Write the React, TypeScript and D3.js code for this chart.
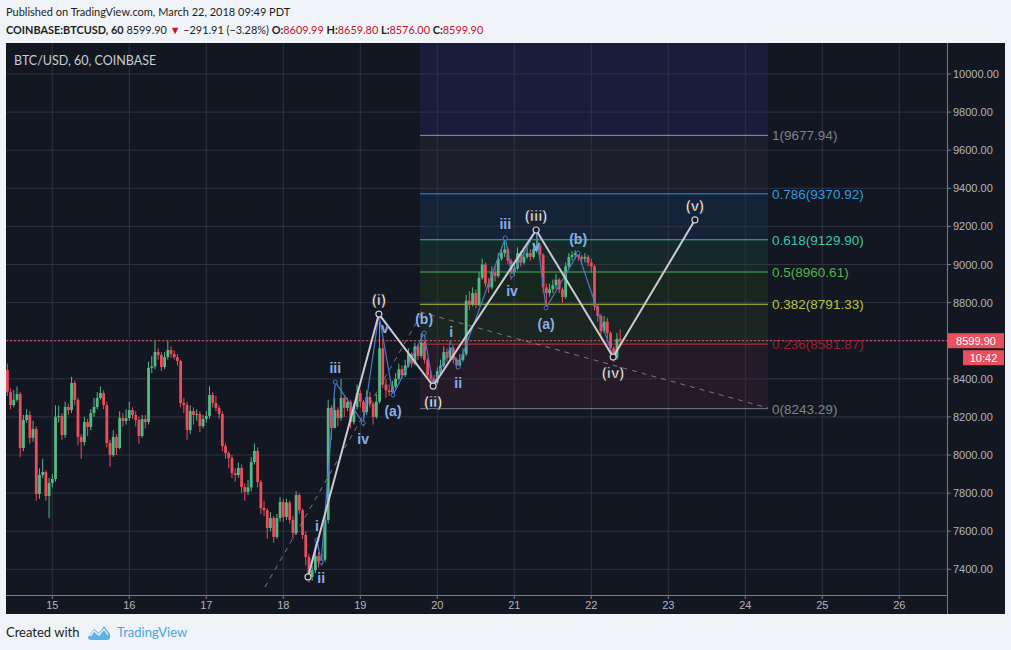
import React from 'react';
import * as d3 from 'd3';

// ---------- DATA ----------
const firstOpen = 8446;
const closes = [
  8330, 8262, 8290, 8320, 8037, 8184, 8210, 8090, 8136, 7795,
  7895, 7911, 7785, 7853, 7874, 8200, 8205, 8105, 8252, 8236,
  8378, 8289, 8095, 8068, 8173, 8147, 8220, 8252, 8299, 8325,
  8262, 8063, 8000, 8095, 8037, 8194, 8178, 8194, 8236, 8210,
  8184, 8100, 8189, 8173, 8457, 8465, 8541, 8525, 8462, 8514,
  8551, 8530, 8514, 8493, 8273, 8262, 8131, 8231, 8210, 8215,
  8152, 8189, 8205, 8315, 8273, 8247, 8215, 8047, 8010, 7984,
  7905, 7895, 7932, 7832, 7806, 7830, 7963, 8021, 7858, 7722,
  7710, 7617, 7669, 7570, 7669, 7753, 7675, 7750, 7660, 7590,
  7790, 7710, 7580, 7464, 7360, 7395, 7470, 7440, 7450, 7659,
  8247, 8142, 8236, 8194, 8299, 8247, 8278, 8173, 8252, 8325,
  8280, 8225, 8305, 8270, 8200, 8280, 8560, 8370, 8340, 8330,
  8360, 8400, 8450, 8420, 8470, 8530, 8480, 8570, 8520, 8590,
  8500, 8420, 8400, 8380, 8440, 8470, 8540, 8510, 8560, 8500,
  8470, 8500, 8530, 8810, 8790, 8850, 8790, 8930, 9000, 8900,
  8880, 8960, 8940, 9030, 9060, 9080, 9020, 8960, 8980, 9060,
  9010, 9040, 9060, 9040, 9080, 9100, 9050, 8880, 8850, 8870,
  8890, 8920, 8870, 8830, 8990, 9040, 9050, 9060, 9040, 9030,
  9040, 9010, 8990, 8780, 8730, 8650, 8700, 8640, 8560, 8510,
  8609.99, 8599.9,
];
const highs = [
  8480, 8350, 8340, 8360, 8330, 8210, 8240, 8230, 8180, 8150,
  7930, 7980, 7920, 7880, 7900, 8260, 8260, 8220, 8280, 8270,
  8410, 8390, 8300, 8110, 8200, 8190, 8240, 8300, 8330, 8360,
  8340, 8280, 8080, 8130, 8110, 8230, 8220, 8240, 8280, 8250,
  8230, 8200, 8210, 8210, 8490, 8520, 8600, 8560, 8540, 8540,
  8600, 8570, 8550, 8530, 8500, 8300, 8280, 8260, 8250, 8240,
  8230, 8210, 8230, 8360, 8330, 8310, 8260, 8230, 8060, 8020,
  8000, 7930, 7960, 7950, 7850, 7870, 7990, 8060, 8040, 7870,
  7760, 7720, 7700, 7680, 7690, 7780, 7770, 7770, 7760, 7680,
  7810, 7800, 7720, 7600, 7480, 7420, 7500, 7490, 7480, 7690,
  8290, 8260, 8300, 8250, 8400, 8310, 8300, 8290, 8270, 8370,
  8340, 8290, 8340, 8330, 8280, 8320, 8700, 8610, 8400, 8370,
  8390, 8430, 8480, 8470, 8500, 8560, 8540, 8590, 8580, 8640,
  8600, 8510, 8440, 8420, 8460, 8500, 8570, 8560, 8600, 8570,
  8510, 8530, 8560, 8840, 8860, 8880, 8870, 8960, 9030, 9010,
  8930, 8990, 8990, 9060, 9090, 9140, 9090, 9030, 9010, 9090,
  9070, 9070, 9090, 9080, 9110, 9180, 9110, 9060, 8900, 8900,
  8920, 8950, 8930, 8880, 9010, 9060, 9070, 9075, 9070, 9050,
  9060, 9050, 9030, 9000, 8790, 8740, 8730, 8720, 8650, 8570,
  8640, 8659.8,
];
const lows = [
  8310, 8240, 8250, 8280, 7990, 8020, 8170, 8060, 8070, 7760,
  7770, 7880, 7760, 7669, 7830, 7860, 8170, 8080, 8090, 8210,
  8220, 8260, 8050, 7980, 8050, 8100, 8130, 8200, 8240, 8290,
  8240, 8040, 7940, 7990, 8000, 8030, 8150, 8160, 8180, 8190,
  8150, 8060, 8090, 8140, 8160, 8430, 8450, 8500, 8440, 8450,
  8500, 8510, 8500, 8470, 8250, 8220, 8080, 8110, 8160, 8180,
  8120, 8140, 8170, 8190, 8250, 8230, 8190, 8020, 7980, 7930,
  7880, 7860, 7880, 7800, 7760, 7790, 7810, 7950, 7830, 7690,
  7680, 7560, 7600, 7540, 7560, 7650, 7650, 7660, 7640, 7560,
  7580, 7690, 7560, 7420, 7330, 7340, 7380, 7410, 7420, 7440,
  7640, 8080, 8140, 8150, 8180, 8200, 8230, 8140, 8160, 8240,
  8250, 8150, 8210, 8250, 8160, 8190, 8270, 8350, 8300, 8310,
  8310, 8350, 8390, 8400, 8410, 8460, 8460, 8470, 8500, 8510,
  8480, 8400, 8370, 8355, 8370, 8420, 8460, 8490, 8500, 8480,
  8450, 8460, 8490, 8520, 8760, 8780, 8770, 8780, 8920, 8880,
  8850, 8870, 8910, 8930, 9020, 9040, 9000, 8920, 8940, 8970,
  8990, 9000, 9030, 9020, 9030, 9060, 9020, 8850, 8770, 8830,
  8850, 8870, 8850, 8800, 8820, 8980, 9020, 9030, 9020, 9000,
  9010, 8990, 8960, 8760, 8700, 8620, 8640, 8610, 8530, 8490,
  8500, 8576,
];

// candle index 14 == March 15 00:00 (hourly bars)
const dayLabels = ['15', '16', '17', '18', '19', '20', '21', '22', '23', '24', '25', '26'];
const dayIndex = [14, 38, 62, 86, 110, 134, 158, 182, 206, 230, 254, 278];
const priceTicks = [7400, 7600, 7800, 8000, 8200, 8400, 8600, 8800, 9000, 9200, 9400, 9600, 9800, 10000];

const fibRatios = ['0', '0.236', '0.382', '0.5', '0.618', '0.786', '1'];
const fibValues = [8243.29, 8581.87, 8791.33, 8960.61, 9129.9, 9370.92, 9677.94];
const fibSpan = [128.6, 237.1];

const lastPrice = 8599.9;
const countdown = '10:42';

const headerTitle = 'Published on TradingView.com, March 22, 2018 09:49 PDT';
const headerParts = [
  { text: 'COINBASE:BTCUSD, 60', bold: true, red: false },
  { text: ' 8599.90 ', bold: false, red: false },
  { text: '▼', bold: false, red: true },
  { text: ' −291.91 (−3.28%) ', bold: false, red: false },
  { text: 'O:', bold: true, red: false },
  { text: '8609.99 ', bold: false, red: true },
  { text: 'H:', bold: true, red: false },
  { text: '8659.80 ', bold: false, red: true },
  { text: 'L:', bold: true, red: false },
  { text: '8576.00 ', bold: false, red: true },
  { text: 'C:', bold: true, red: false },
  { text: '8599.90', bold: false, red: true },
];

const primaryWave = [
  { t: 93.7, p: 7360, label: '', pos: 'below' },
  { t: 115.8, p: 8740, label: '(i)', pos: 'above' },
  { t: 132.7, p: 8362, label: '(ii)', pos: 'below' },
  { t: 164.8, p: 9181, label: '(iii)', pos: 'above' },
  { t: 188.8, p: 8514, label: '(iv)', pos: 'below' },
  { t: 214.3, p: 9234, label: '(v)', pos: 'above' },
];
const subWave1 = [
  { t: 93.7, p: 7360, label: '', pos: 'below' },
  { t: 96.5, p: 7554, label: 'i', pos: 'above' },
  { t: 97.8, p: 7438, label: 'ii', pos: 'below' },
  { t: 102.2, p: 8383, label: 'iii', pos: 'above' },
  { t: 110.9, p: 8168, label: 'iv', pos: 'below' },
  { t: 115.8, p: 8740, label: 'v', pos: 'belowRight' },
];
const subWave2 = [
  { t: 115.8, p: 8740, label: '', pos: 'above' },
  { t: 120.2, p: 8315, label: '(a)', pos: 'below' },
  { t: 129.9, p: 8640, label: '(b)', pos: 'above' },
  { t: 132.7, p: 8362, label: '', pos: 'below' },
];
const subWave3 = [
  { t: 132.7, p: 8362, label: '', pos: 'below' },
  { t: 138.3, p: 8572, label: 'i', pos: 'above' },
  { t: 140.5, p: 8462, label: 'ii', pos: 'below' },
  { t: 155.2, p: 9139, label: 'iii', pos: 'above' },
  { t: 157.3, p: 8945, label: 'iv', pos: 'below' },
  { t: 164.8, p: 9181, label: 'v', pos: 'below' },
];
const subWave4 = [
  { t: 164.8, p: 9181, label: '', pos: 'above' },
  { t: 167.9, p: 8772, label: '(a)', pos: 'below' },
  { t: 177.9, p: 9060, label: '(b)', pos: 'above' },
  { t: 188.8, p: 8514, label: '', pos: 'below' },
];
const trendLines = [
  [{ t: 80.3, p: 7307 }, { t: 129.2, p: 8745 }],
  [{ t: 128.6, p: 8751 }, { t: 237.1, p: 8247 }],
];

// ---------- STYLE ----------
const W = 1011, H = 650;
const plot = { left: 6, right: 947, top: 43, bottom: 595 };
const frameRight = 1005, frameBottom = 614;
const BG = '#131722';
const GRID = '#2f3340';
const UP = '#53b987';
const DOWN = '#eb4d5c';
const AXIS_TEXT = '#b2b5be';
const fibLineColors = ['#787b86', '#d0303d', '#b5c833', '#4caf50', '#2bc0a0', '#2196f3', '#9598a1'];
const fibTextColors = ['#80838c', '#9c2230', '#b9c43c', '#53b34c', '#3cc6a6', '#2f9be0', '#7f828b'];
const fibFills = ['#251a27', '#1b2521', '#17271f', '#152a29', '#152339', '#1c1f2b', '#1a1c3c'];
const BLUE_LINE = '#4d78c8';
const BLUE_TEXT = '#89aee6';
const WHITE_LINE = '#c9cbd0';
const HEAD_RED = '#c8102e';

const font = 'Lato, "Open Sans", sans-serif';
const axisFont = '"Liberation Sans", Arial, sans-serif';

export default function App() {
  const x = d3.scaleLinear().domain([14, 278]).range([52.3, 899.3]);
  const y = d3.scaleLinear().domain([7400, 10000]).range([569.3, 74]);
  const line = d3
    .line<{ t: number; p: number }>()
    .x((d) => x(d.t))
    .y((d) => y(d.p));

  const candles = closes.map((c, i) => {
    const o = i === 0 ? firstOpen : closes[i - 1];
    return { i, o, c, h: Math.max(highs[i], o, c), l: Math.min(lows[i], o, c) };
  });

  const fx0 = x(fibSpan[0]);
  const fx1 = x(fibSpan[1]);
  const lastY = y(lastPrice);

  const labelY = (pos: string, py: number) =>
    pos === 'above' ? py - 9 : pos === 'belowRight' ? py + 19 : py + 21;

  const renderSub = (pts: typeof subWave1, key: string) => (
    <g key={key}>
      <path d={line(pts) || ''} fill="none" stroke={BLUE_LINE} strokeWidth={1.2} />
      {pts.map((d, k) => (
        <circle key={k} cx={x(d.t)} cy={y(d.p)} r={2} fill={BG} stroke={BLUE_LINE} strokeWidth={1} />
      ))}
    </g>
  );
  const renderSubLabels = (pts: typeof subWave1, key: string) => (
    <g key={key}>
      {pts.map((d, k) =>
        d.label ? (
          <text
            key={k}
            x={x(d.t) + (d.pos === 'belowRight' ? 6 : 0)}
            y={labelY(d.pos, y(d.p))}
            textAnchor="middle"
            fontFamily={axisFont}
            fontWeight="bold"
            fontSize={14}
            fill={BLUE_TEXT}
          >
            {d.label}
          </text>
        ) : null
      )}
    </g>
  );

  return (
    <svg width={W} height={H} style={{ position: 'absolute', left: 0, top: 0 }}>
      <rect x={0} y={0} width={W} height={H} fill="#f0f3f7" />
      {/* header */}
      <text x={6} y={16} fontFamily={font} fontSize={11} fill="#1e1e1e">
        {headerTitle}
      </text>
      <text x={6} y={34} fontFamily={font} fontSize={10.9} fill="#1e1e1e" style={{ whiteSpace: 'pre' }}>
        {headerParts.map((hp, k) => (
          <tspan key={k} fontWeight={hp.bold ? 'bold' : 'normal'} fill={hp.red ? HEAD_RED : '#1e1e1e'}>
            {hp.text}
          </tspan>
        ))}
      </text>

      {/* chart frame */}
      <rect x={plot.left} y={plot.top} width={frameRight - plot.left} height={frameBottom - plot.top} fill={BG} />

      <defs>
        <clipPath id="plotClip">
          <rect x={plot.left} y={plot.top} width={plot.right - plot.left} height={plot.bottom - plot.top} />
        </clipPath>
      </defs>

      <g clipPath="url(#plotClip)">
        {/* fib fills */}
        {fibValues.map((v, k) => {
          const top = k < fibValues.length - 1 ? y(fibValues[k + 1]) : plot.top;
          return <rect key={k} x={fx0} y={top} width={fx1 - fx0} height={y(v) - top} fill={fibFills[k]} />;
        })}
        {/* grid */}
        {dayIndex.map((d, k) => (
          <line key={'gx' + k} x1={x(d)} x2={x(d)} y1={plot.top} y2={plot.bottom} stroke={GRID} strokeWidth={1} />
        ))}
        {priceTicks.map((p) => (
          <line key={'gy' + p} x1={plot.left} x2={plot.right} y1={y(p)} y2={y(p)} stroke={GRID} strokeWidth={1} />
        ))}
        {/* fib lines */}
        {fibValues.map((v, k) => (
          <line key={'fl' + k} x1={fx0} x2={fx1} y1={y(v)} y2={y(v)} stroke={fibLineColors[k]} strokeWidth={1} />
        ))}
        {/* candles */}
        {candles.map((d) => {
          const col = d.c >= d.o ? UP : DOWN;
          const cx = x(d.i);
          const top = y(Math.max(d.o, d.c));
          const bh = Math.max(1, y(Math.min(d.o, d.c)) - top);
          return (
            <g key={d.i}>
              <line x1={cx} x2={cx} y1={y(d.h)} y2={y(d.l)} stroke={col} strokeWidth={1} />
              <rect x={cx - 1.4} y={top} width={2.8} height={bh} fill={col} />
            </g>
          );
        })}
        {/* trend lines */}
        {trendLines.map((tl, k) => (
          <path key={'tl' + k} d={line(tl) || ''} stroke="#9598a1" strokeOpacity={0.75} strokeDasharray="5,5" fill="none" />
        ))}
        {/* current price line */}
        <line x1={plot.left} x2={plot.right} y1={lastY} y2={lastY} stroke="#e8505e" strokeDasharray="2,2" strokeWidth={1} />
        {/* sub waves */}
        {[subWave1, subWave2, subWave3, subWave4].map((w, k) => renderSub(w, 'sw' + k))}
        {/* primary wave */}
        <path d={line(primaryWave) || ''} fill="none" stroke={WHITE_LINE} strokeWidth={2} />
        {primaryWave.map((d, k) => (
          <circle key={'pc' + k} cx={x(d.t)} cy={y(d.p)} r={3} fill={BG} stroke={WHITE_LINE} strokeWidth={1.2} />
        ))}
        {[subWave1, subWave2, subWave3, subWave4].map((w, k) => renderSubLabels(w, 'sl' + k))}
        {primaryWave.map((d, k) =>
          d.label ? (
            <text
              key={'pl' + k}
              x={x(d.t)}
              y={labelY(d.pos, y(d.p))}
              textAnchor="middle"
              fontFamily={axisFont}
              fontWeight="bold"
              fontSize={15}
              fill="#f5f6f8"
              stroke={BG}
              strokeWidth={0.6}
            >
              {d.label}
            </text>
          ) : null
        )}
        {/* fib labels */}
        {fibValues.map((v, k) => (
          <text key={'ft' + k} x={fx1 + 4} y={y(v) + 5} fontFamily={axisFont} fontSize={13.5} fill={fibTextColors[k]}>
            {`${fibRatios[k]}(${v.toFixed(2)})`}
          </text>
        ))}
        <text x={14} y={65} fontFamily={font} fontSize={12.5} fill="#c9ccd4">
          BTC/USD, 60, COINBASE
        </text>
      </g>

      {/* axes separators */}
      <line x1={plot.right + 0.5} x2={plot.right + 0.5} y1={plot.top} y2={frameBottom} stroke="#787b86" />
      <line x1={plot.left} x2={plot.right} y1={plot.bottom + 0.5} y2={plot.bottom + 0.5} stroke="#787b86" />

      {/* price axis (labels hidden under the last-price box are skipped) */}
      {priceTicks.map((p) => (
        <g key={'pt' + p}>
          <line x1={plot.right} x2={plot.right + 4} y1={y(p)} y2={y(p)} stroke="#787b86" />
          {Math.abs(y(p) - lastY) > 12 ? (
            <text x={953} y={y(p) + 4} fontFamily={axisFont} fontSize={11} fill={AXIS_TEXT}>
              {p.toFixed(2)}
            </text>
          ) : null}
        </g>
      ))}
      {/* time axis */}
      {dayIndex.map((d, k) => (
        <g key={'tt' + k}>
          <line x1={x(d)} x2={x(d)} y1={plot.bottom} y2={plot.bottom + 4} stroke="#787b86" />
          <text x={x(d)} y={609} textAnchor="middle" fontFamily={axisFont} fontSize={11} fill={AXIS_TEXT}>
            {dayLabels[k]}
          </text>
        </g>
      ))}

      {/* last price boxes */}
      <rect x={948} y={lastY - 7.5} width={56} height={15} fill="#e8505e" />
      <text x={976} y={lastY + 4} textAnchor="middle" fontFamily={axisFont} fontSize={11} fill="#ffffff">
        {lastPrice.toFixed(2)}
      </text>
      <rect x={963} y={lastY + 9.5} width={41} height={15} fill="#e8505e" />
      <text x={983.5} y={lastY + 21} textAnchor="middle" fontFamily={axisFont} fontSize={11} fill="#ffffff">
        {countdown}
      </text>

      {/* footer */}
      <text x={6} y={637} fontFamily={font} fontSize={13} fill="#1e1e1e">
        Created with
      </text>
      <path
        d="M88,637 L94,629 L99,633 L104,626 L110,634 L110,637 Q110,640 107,640 L91,640 Q88,640 88,637 Z"
        fill="#5eb4e6"
      />
      <path d="M90,636 L94,631 L99,635 L104,629 L108,635" fill="none" stroke="#f0f3f7" strokeWidth={1.3} />
      <text x={117} y={637} fontFamily={font} fontSize={13} fill="#4aa6dc">
        TradingView
      </text>
    </svg>
  );
}
